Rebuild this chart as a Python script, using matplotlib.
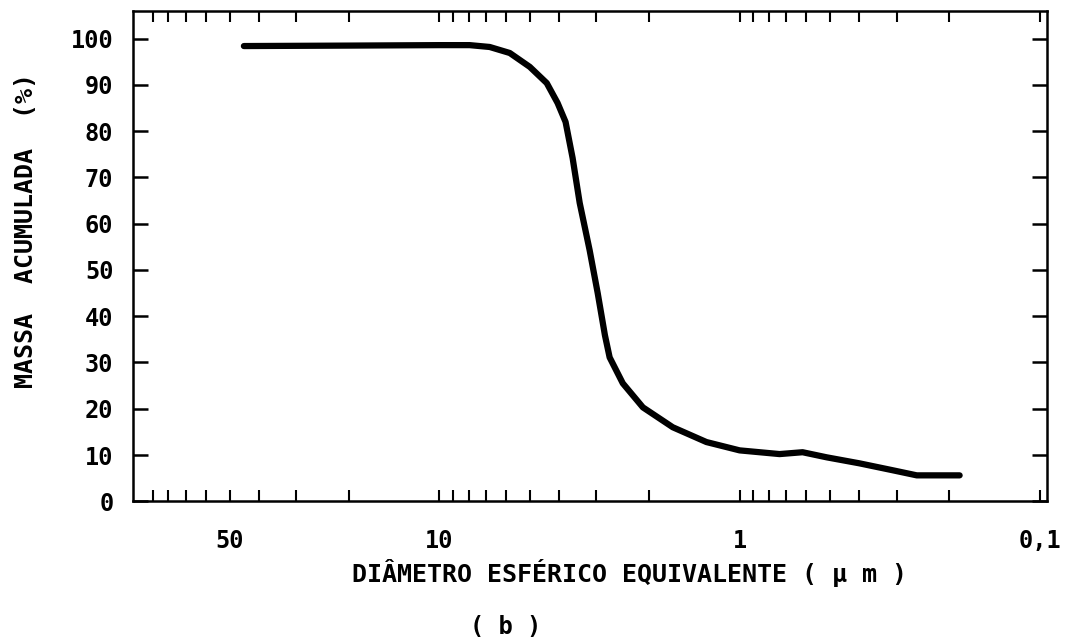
import numpy as np
import matplotlib
matplotlib.use('Agg')
import matplotlib.pyplot as plt
from matplotlib.ticker import LogLocator, NullFormatter, FixedLocator

# diametro esferico equivalente (um) e massa acumulada (%)
diam = [44.8, 20.0, 10.0, 7.93, 6.80, 5.83, 5.00, 4.39, 4.04, 3.80, 3.60,
        3.41, 3.16, 2.97, 2.81, 2.71, 2.45, 2.10, 1.67, 1.29, 1.00, 0.736,
        0.617, 0.513, 0.399, 0.309, 0.257, 0.185]
massa = [98.4, 98.5, 98.6, 98.6, 98.2, 96.9, 93.9, 90.4, 86.1, 82.0, 74.2,
         64.5, 54.3, 45.0, 35.9, 31.1, 25.5, 20.3, 16.0, 12.8, 11.0, 10.2,
         10.6, 9.5, 8.2, 6.7, 5.6, 5.6]

xticks = [50, 10, 1, 0.1]
xticklabels = ['50', '10', '1', '0,1']
yticks = list(range(0, 101, 10))

font = {'family': 'DejaVu Sans Mono', 'weight': 'bold'}

fig = plt.figure(figsize=(10.8, 6.41), dpi=100)
ax = fig.add_axes([0.123, 0.218, 0.846, 0.765])

ax.plot(diam, massa, color='black', linewidth=4.5,
        solid_capstyle='round', solid_joinstyle='round')

ax.set_xscale('log')
ax.set_xlim(105, 0.095)
ax.set_ylim(0, 106)

ax.xaxis.set_major_locator(FixedLocator(xticks))
ax.set_xticklabels(xticklabels, fontdict=font, fontsize=17)
ax.xaxis.set_minor_locator(LogLocator(base=10, subs=np.arange(2, 10)))
ax.xaxis.set_minor_formatter(NullFormatter())
ax.set_yticks(yticks)
ax.set_yticklabels([str(v) for v in yticks], fontdict=font, fontsize=17)

ax.tick_params(axis='x', which='both', direction='in', top=True, bottom=True,
               length=8, width=1.5, pad=20)
ax.tick_params(axis='y', which='both', direction='in', left=True, right=True,
               length=11, width=1.8, pad=14)

for s in ax.spines.values():
    s.set_linewidth(1.8)

fig.text(0.583, 0.106, 'DIÂMETRO ESFÉRICO EQUIVALENTE ( μ m )', ha='center', va='center',
         fontsize=18, **font)
fig.text(0.468, 0.022, '( b )', ha='center', va='center', fontsize=17, **font)
fig.text(0.024, 0.641, 'MASSA  ACUMULADA  (%)', ha='center', va='center', rotation=90,
         fontsize=18, **font)

fig.savefig('out.png', dpi=100)
